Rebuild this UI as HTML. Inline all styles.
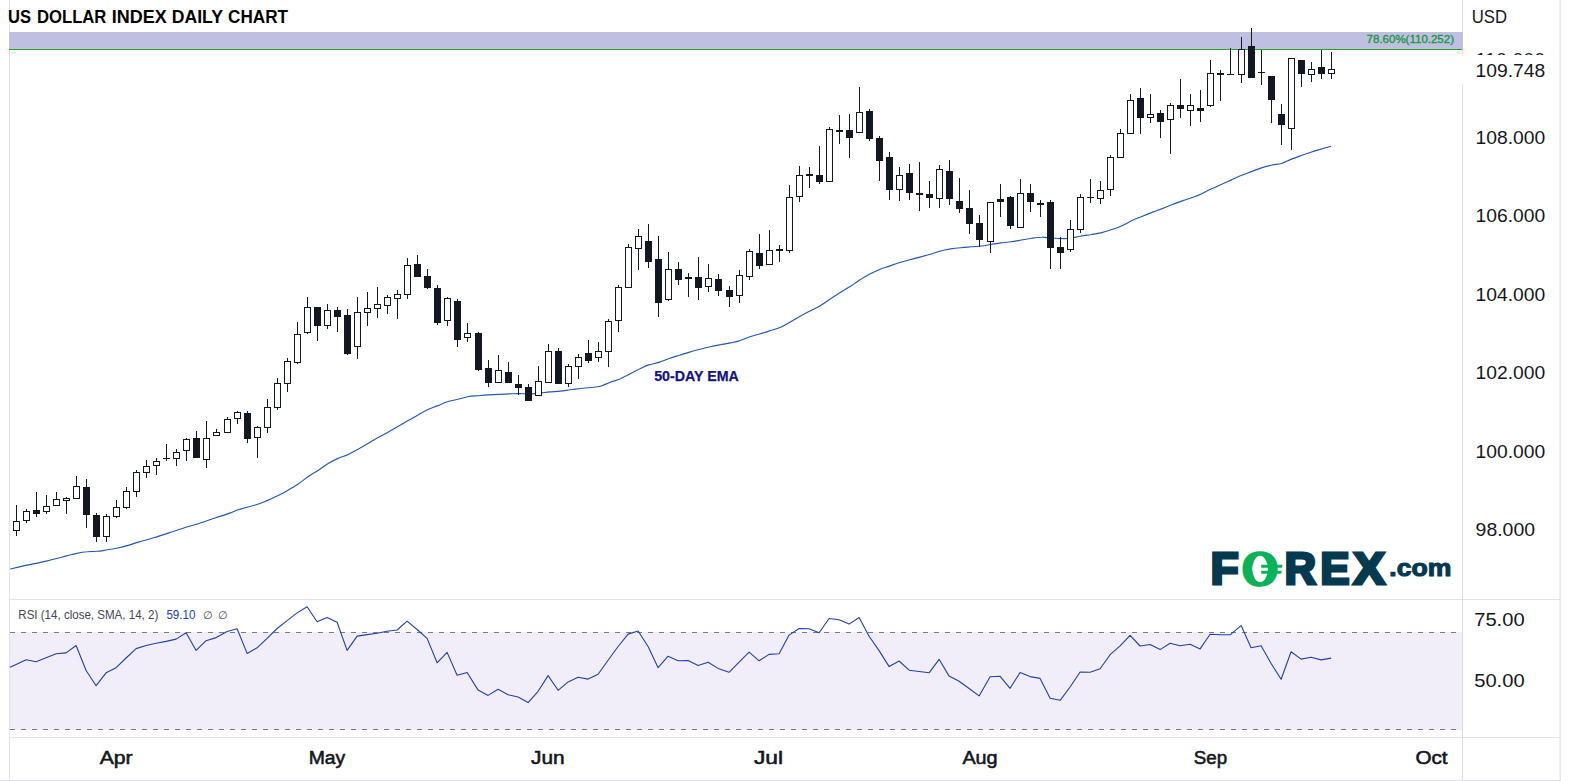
<!DOCTYPE html>
<html lang="en"><head><meta charset="utf-8"><title>US Dollar Index Daily Chart</title>
<style>html,body{margin:0;padding:0;background:#fff;}body{width:1570px;height:781px;overflow:hidden;font-family:"Liberation Sans",sans-serif;}svg{display:block;}text{font-family:"Liberation Sans",sans-serif;}</style>
</head><body>
<svg width="1570" height="781" viewBox="0 0 1570 781">
<rect x="0" y="0" width="1570" height="781" fill="#ffffff"/>
<g shape-rendering="crispEdges">
<rect x="10" y="632" width="1452" height="98" fill="#f2eef9"/>
<rect x="9" y="0" width="1" height="781" fill="#e0e3eb"/>
<rect x="1462" y="0" width="1" height="781" fill="#dcdee5"/>
<rect x="1559" y="0" width="1" height="781" fill="#eef0f6"/>
<rect x="1560" y="0" width="1" height="781" fill="#e9ebf3"/>
<rect x="9" y="599" width="1551" height="1" fill="#e0e3eb"/>
<rect x="9" y="737" width="1551" height="1" fill="#e0e3eb"/>
<rect x="0" y="780" width="1561" height="1" fill="#e0e3eb"/>
<rect x="9" y="32" width="1454" height="17" fill="#bfbfe1"/>
<rect x="9" y="49" width="1453" height="1" fill="#21a621"/>
<rect x="10" y="632" width="5" height="1" fill="#787b86"/>
<rect x="21" y="632" width="5" height="1" fill="#787b86"/>
<rect x="32" y="632" width="5" height="1" fill="#787b86"/>
<rect x="43" y="632" width="5" height="1" fill="#787b86"/>
<rect x="54" y="632" width="5" height="1" fill="#787b86"/>
<rect x="65" y="632" width="5" height="1" fill="#787b86"/>
<rect x="76" y="632" width="5" height="1" fill="#787b86"/>
<rect x="87" y="632" width="5" height="1" fill="#787b86"/>
<rect x="98" y="632" width="5" height="1" fill="#787b86"/>
<rect x="109" y="632" width="5" height="1" fill="#787b86"/>
<rect x="120" y="632" width="5" height="1" fill="#787b86"/>
<rect x="131" y="632" width="5" height="1" fill="#787b86"/>
<rect x="142" y="632" width="5" height="1" fill="#787b86"/>
<rect x="153" y="632" width="5" height="1" fill="#787b86"/>
<rect x="164" y="632" width="5" height="1" fill="#787b86"/>
<rect x="175" y="632" width="5" height="1" fill="#787b86"/>
<rect x="186" y="632" width="5" height="1" fill="#787b86"/>
<rect x="197" y="632" width="5" height="1" fill="#787b86"/>
<rect x="208" y="632" width="5" height="1" fill="#787b86"/>
<rect x="219" y="632" width="5" height="1" fill="#787b86"/>
<rect x="230" y="632" width="5" height="1" fill="#787b86"/>
<rect x="241" y="632" width="5" height="1" fill="#787b86"/>
<rect x="252" y="632" width="5" height="1" fill="#787b86"/>
<rect x="263" y="632" width="5" height="1" fill="#787b86"/>
<rect x="274" y="632" width="5" height="1" fill="#787b86"/>
<rect x="285" y="632" width="5" height="1" fill="#787b86"/>
<rect x="296" y="632" width="5" height="1" fill="#787b86"/>
<rect x="307" y="632" width="5" height="1" fill="#787b86"/>
<rect x="318" y="632" width="5" height="1" fill="#787b86"/>
<rect x="329" y="632" width="5" height="1" fill="#787b86"/>
<rect x="340" y="632" width="5" height="1" fill="#787b86"/>
<rect x="351" y="632" width="5" height="1" fill="#787b86"/>
<rect x="362" y="632" width="5" height="1" fill="#787b86"/>
<rect x="373" y="632" width="5" height="1" fill="#787b86"/>
<rect x="384" y="632" width="5" height="1" fill="#787b86"/>
<rect x="395" y="632" width="5" height="1" fill="#787b86"/>
<rect x="406" y="632" width="5" height="1" fill="#787b86"/>
<rect x="417" y="632" width="5" height="1" fill="#787b86"/>
<rect x="428" y="632" width="5" height="1" fill="#787b86"/>
<rect x="439" y="632" width="5" height="1" fill="#787b86"/>
<rect x="450" y="632" width="5" height="1" fill="#787b86"/>
<rect x="461" y="632" width="5" height="1" fill="#787b86"/>
<rect x="472" y="632" width="5" height="1" fill="#787b86"/>
<rect x="483" y="632" width="5" height="1" fill="#787b86"/>
<rect x="494" y="632" width="5" height="1" fill="#787b86"/>
<rect x="505" y="632" width="5" height="1" fill="#787b86"/>
<rect x="516" y="632" width="5" height="1" fill="#787b86"/>
<rect x="527" y="632" width="5" height="1" fill="#787b86"/>
<rect x="538" y="632" width="5" height="1" fill="#787b86"/>
<rect x="549" y="632" width="5" height="1" fill="#787b86"/>
<rect x="560" y="632" width="5" height="1" fill="#787b86"/>
<rect x="571" y="632" width="5" height="1" fill="#787b86"/>
<rect x="582" y="632" width="5" height="1" fill="#787b86"/>
<rect x="593" y="632" width="5" height="1" fill="#787b86"/>
<rect x="604" y="632" width="5" height="1" fill="#787b86"/>
<rect x="615" y="632" width="5" height="1" fill="#787b86"/>
<rect x="626" y="632" width="5" height="1" fill="#787b86"/>
<rect x="637" y="632" width="5" height="1" fill="#787b86"/>
<rect x="648" y="632" width="5" height="1" fill="#787b86"/>
<rect x="659" y="632" width="5" height="1" fill="#787b86"/>
<rect x="670" y="632" width="5" height="1" fill="#787b86"/>
<rect x="681" y="632" width="5" height="1" fill="#787b86"/>
<rect x="692" y="632" width="5" height="1" fill="#787b86"/>
<rect x="703" y="632" width="5" height="1" fill="#787b86"/>
<rect x="714" y="632" width="5" height="1" fill="#787b86"/>
<rect x="725" y="632" width="5" height="1" fill="#787b86"/>
<rect x="736" y="632" width="5" height="1" fill="#787b86"/>
<rect x="747" y="632" width="5" height="1" fill="#787b86"/>
<rect x="758" y="632" width="5" height="1" fill="#787b86"/>
<rect x="769" y="632" width="5" height="1" fill="#787b86"/>
<rect x="780" y="632" width="5" height="1" fill="#787b86"/>
<rect x="791" y="632" width="5" height="1" fill="#787b86"/>
<rect x="802" y="632" width="5" height="1" fill="#787b86"/>
<rect x="813" y="632" width="5" height="1" fill="#787b86"/>
<rect x="824" y="632" width="5" height="1" fill="#787b86"/>
<rect x="835" y="632" width="5" height="1" fill="#787b86"/>
<rect x="846" y="632" width="5" height="1" fill="#787b86"/>
<rect x="857" y="632" width="5" height="1" fill="#787b86"/>
<rect x="868" y="632" width="5" height="1" fill="#787b86"/>
<rect x="879" y="632" width="5" height="1" fill="#787b86"/>
<rect x="890" y="632" width="5" height="1" fill="#787b86"/>
<rect x="901" y="632" width="5" height="1" fill="#787b86"/>
<rect x="912" y="632" width="5" height="1" fill="#787b86"/>
<rect x="923" y="632" width="5" height="1" fill="#787b86"/>
<rect x="934" y="632" width="5" height="1" fill="#787b86"/>
<rect x="945" y="632" width="5" height="1" fill="#787b86"/>
<rect x="956" y="632" width="5" height="1" fill="#787b86"/>
<rect x="967" y="632" width="5" height="1" fill="#787b86"/>
<rect x="978" y="632" width="5" height="1" fill="#787b86"/>
<rect x="989" y="632" width="5" height="1" fill="#787b86"/>
<rect x="1000" y="632" width="5" height="1" fill="#787b86"/>
<rect x="1011" y="632" width="5" height="1" fill="#787b86"/>
<rect x="1022" y="632" width="5" height="1" fill="#787b86"/>
<rect x="1033" y="632" width="5" height="1" fill="#787b86"/>
<rect x="1044" y="632" width="5" height="1" fill="#787b86"/>
<rect x="1055" y="632" width="5" height="1" fill="#787b86"/>
<rect x="1066" y="632" width="5" height="1" fill="#787b86"/>
<rect x="1077" y="632" width="5" height="1" fill="#787b86"/>
<rect x="1088" y="632" width="5" height="1" fill="#787b86"/>
<rect x="1099" y="632" width="5" height="1" fill="#787b86"/>
<rect x="1110" y="632" width="5" height="1" fill="#787b86"/>
<rect x="1121" y="632" width="5" height="1" fill="#787b86"/>
<rect x="1132" y="632" width="5" height="1" fill="#787b86"/>
<rect x="1143" y="632" width="5" height="1" fill="#787b86"/>
<rect x="1154" y="632" width="5" height="1" fill="#787b86"/>
<rect x="1165" y="632" width="5" height="1" fill="#787b86"/>
<rect x="1176" y="632" width="5" height="1" fill="#787b86"/>
<rect x="1187" y="632" width="5" height="1" fill="#787b86"/>
<rect x="1198" y="632" width="5" height="1" fill="#787b86"/>
<rect x="1209" y="632" width="5" height="1" fill="#787b86"/>
<rect x="1220" y="632" width="5" height="1" fill="#787b86"/>
<rect x="1231" y="632" width="5" height="1" fill="#787b86"/>
<rect x="1242" y="632" width="5" height="1" fill="#787b86"/>
<rect x="1253" y="632" width="5" height="1" fill="#787b86"/>
<rect x="1264" y="632" width="5" height="1" fill="#787b86"/>
<rect x="1275" y="632" width="5" height="1" fill="#787b86"/>
<rect x="1286" y="632" width="5" height="1" fill="#787b86"/>
<rect x="1297" y="632" width="5" height="1" fill="#787b86"/>
<rect x="1308" y="632" width="5" height="1" fill="#787b86"/>
<rect x="1319" y="632" width="5" height="1" fill="#787b86"/>
<rect x="1330" y="632" width="5" height="1" fill="#787b86"/>
<rect x="1341" y="632" width="5" height="1" fill="#787b86"/>
<rect x="1352" y="632" width="5" height="1" fill="#787b86"/>
<rect x="1363" y="632" width="5" height="1" fill="#787b86"/>
<rect x="1374" y="632" width="5" height="1" fill="#787b86"/>
<rect x="1385" y="632" width="5" height="1" fill="#787b86"/>
<rect x="1396" y="632" width="5" height="1" fill="#787b86"/>
<rect x="1407" y="632" width="5" height="1" fill="#787b86"/>
<rect x="1418" y="632" width="5" height="1" fill="#787b86"/>
<rect x="1429" y="632" width="5" height="1" fill="#787b86"/>
<rect x="1440" y="632" width="5" height="1" fill="#787b86"/>
<rect x="1451" y="632" width="5" height="1" fill="#787b86"/>
<rect x="10" y="729" width="5" height="1" fill="#787b86"/>
<rect x="21" y="729" width="5" height="1" fill="#787b86"/>
<rect x="32" y="729" width="5" height="1" fill="#787b86"/>
<rect x="43" y="729" width="5" height="1" fill="#787b86"/>
<rect x="54" y="729" width="5" height="1" fill="#787b86"/>
<rect x="65" y="729" width="5" height="1" fill="#787b86"/>
<rect x="76" y="729" width="5" height="1" fill="#787b86"/>
<rect x="87" y="729" width="5" height="1" fill="#787b86"/>
<rect x="98" y="729" width="5" height="1" fill="#787b86"/>
<rect x="109" y="729" width="5" height="1" fill="#787b86"/>
<rect x="120" y="729" width="5" height="1" fill="#787b86"/>
<rect x="131" y="729" width="5" height="1" fill="#787b86"/>
<rect x="142" y="729" width="5" height="1" fill="#787b86"/>
<rect x="153" y="729" width="5" height="1" fill="#787b86"/>
<rect x="164" y="729" width="5" height="1" fill="#787b86"/>
<rect x="175" y="729" width="5" height="1" fill="#787b86"/>
<rect x="186" y="729" width="5" height="1" fill="#787b86"/>
<rect x="197" y="729" width="5" height="1" fill="#787b86"/>
<rect x="208" y="729" width="5" height="1" fill="#787b86"/>
<rect x="219" y="729" width="5" height="1" fill="#787b86"/>
<rect x="230" y="729" width="5" height="1" fill="#787b86"/>
<rect x="241" y="729" width="5" height="1" fill="#787b86"/>
<rect x="252" y="729" width="5" height="1" fill="#787b86"/>
<rect x="263" y="729" width="5" height="1" fill="#787b86"/>
<rect x="274" y="729" width="5" height="1" fill="#787b86"/>
<rect x="285" y="729" width="5" height="1" fill="#787b86"/>
<rect x="296" y="729" width="5" height="1" fill="#787b86"/>
<rect x="307" y="729" width="5" height="1" fill="#787b86"/>
<rect x="318" y="729" width="5" height="1" fill="#787b86"/>
<rect x="329" y="729" width="5" height="1" fill="#787b86"/>
<rect x="340" y="729" width="5" height="1" fill="#787b86"/>
<rect x="351" y="729" width="5" height="1" fill="#787b86"/>
<rect x="362" y="729" width="5" height="1" fill="#787b86"/>
<rect x="373" y="729" width="5" height="1" fill="#787b86"/>
<rect x="384" y="729" width="5" height="1" fill="#787b86"/>
<rect x="395" y="729" width="5" height="1" fill="#787b86"/>
<rect x="406" y="729" width="5" height="1" fill="#787b86"/>
<rect x="417" y="729" width="5" height="1" fill="#787b86"/>
<rect x="428" y="729" width="5" height="1" fill="#787b86"/>
<rect x="439" y="729" width="5" height="1" fill="#787b86"/>
<rect x="450" y="729" width="5" height="1" fill="#787b86"/>
<rect x="461" y="729" width="5" height="1" fill="#787b86"/>
<rect x="472" y="729" width="5" height="1" fill="#787b86"/>
<rect x="483" y="729" width="5" height="1" fill="#787b86"/>
<rect x="494" y="729" width="5" height="1" fill="#787b86"/>
<rect x="505" y="729" width="5" height="1" fill="#787b86"/>
<rect x="516" y="729" width="5" height="1" fill="#787b86"/>
<rect x="527" y="729" width="5" height="1" fill="#787b86"/>
<rect x="538" y="729" width="5" height="1" fill="#787b86"/>
<rect x="549" y="729" width="5" height="1" fill="#787b86"/>
<rect x="560" y="729" width="5" height="1" fill="#787b86"/>
<rect x="571" y="729" width="5" height="1" fill="#787b86"/>
<rect x="582" y="729" width="5" height="1" fill="#787b86"/>
<rect x="593" y="729" width="5" height="1" fill="#787b86"/>
<rect x="604" y="729" width="5" height="1" fill="#787b86"/>
<rect x="615" y="729" width="5" height="1" fill="#787b86"/>
<rect x="626" y="729" width="5" height="1" fill="#787b86"/>
<rect x="637" y="729" width="5" height="1" fill="#787b86"/>
<rect x="648" y="729" width="5" height="1" fill="#787b86"/>
<rect x="659" y="729" width="5" height="1" fill="#787b86"/>
<rect x="670" y="729" width="5" height="1" fill="#787b86"/>
<rect x="681" y="729" width="5" height="1" fill="#787b86"/>
<rect x="692" y="729" width="5" height="1" fill="#787b86"/>
<rect x="703" y="729" width="5" height="1" fill="#787b86"/>
<rect x="714" y="729" width="5" height="1" fill="#787b86"/>
<rect x="725" y="729" width="5" height="1" fill="#787b86"/>
<rect x="736" y="729" width="5" height="1" fill="#787b86"/>
<rect x="747" y="729" width="5" height="1" fill="#787b86"/>
<rect x="758" y="729" width="5" height="1" fill="#787b86"/>
<rect x="769" y="729" width="5" height="1" fill="#787b86"/>
<rect x="780" y="729" width="5" height="1" fill="#787b86"/>
<rect x="791" y="729" width="5" height="1" fill="#787b86"/>
<rect x="802" y="729" width="5" height="1" fill="#787b86"/>
<rect x="813" y="729" width="5" height="1" fill="#787b86"/>
<rect x="824" y="729" width="5" height="1" fill="#787b86"/>
<rect x="835" y="729" width="5" height="1" fill="#787b86"/>
<rect x="846" y="729" width="5" height="1" fill="#787b86"/>
<rect x="857" y="729" width="5" height="1" fill="#787b86"/>
<rect x="868" y="729" width="5" height="1" fill="#787b86"/>
<rect x="879" y="729" width="5" height="1" fill="#787b86"/>
<rect x="890" y="729" width="5" height="1" fill="#787b86"/>
<rect x="901" y="729" width="5" height="1" fill="#787b86"/>
<rect x="912" y="729" width="5" height="1" fill="#787b86"/>
<rect x="923" y="729" width="5" height="1" fill="#787b86"/>
<rect x="934" y="729" width="5" height="1" fill="#787b86"/>
<rect x="945" y="729" width="5" height="1" fill="#787b86"/>
<rect x="956" y="729" width="5" height="1" fill="#787b86"/>
<rect x="967" y="729" width="5" height="1" fill="#787b86"/>
<rect x="978" y="729" width="5" height="1" fill="#787b86"/>
<rect x="989" y="729" width="5" height="1" fill="#787b86"/>
<rect x="1000" y="729" width="5" height="1" fill="#787b86"/>
<rect x="1011" y="729" width="5" height="1" fill="#787b86"/>
<rect x="1022" y="729" width="5" height="1" fill="#787b86"/>
<rect x="1033" y="729" width="5" height="1" fill="#787b86"/>
<rect x="1044" y="729" width="5" height="1" fill="#787b86"/>
<rect x="1055" y="729" width="5" height="1" fill="#787b86"/>
<rect x="1066" y="729" width="5" height="1" fill="#787b86"/>
<rect x="1077" y="729" width="5" height="1" fill="#787b86"/>
<rect x="1088" y="729" width="5" height="1" fill="#787b86"/>
<rect x="1099" y="729" width="5" height="1" fill="#787b86"/>
<rect x="1110" y="729" width="5" height="1" fill="#787b86"/>
<rect x="1121" y="729" width="5" height="1" fill="#787b86"/>
<rect x="1132" y="729" width="5" height="1" fill="#787b86"/>
<rect x="1143" y="729" width="5" height="1" fill="#787b86"/>
<rect x="1154" y="729" width="5" height="1" fill="#787b86"/>
<rect x="1165" y="729" width="5" height="1" fill="#787b86"/>
<rect x="1176" y="729" width="5" height="1" fill="#787b86"/>
<rect x="1187" y="729" width="5" height="1" fill="#787b86"/>
<rect x="1198" y="729" width="5" height="1" fill="#787b86"/>
<rect x="1209" y="729" width="5" height="1" fill="#787b86"/>
<rect x="1220" y="729" width="5" height="1" fill="#787b86"/>
<rect x="1231" y="729" width="5" height="1" fill="#787b86"/>
<rect x="1242" y="729" width="5" height="1" fill="#787b86"/>
<rect x="1253" y="729" width="5" height="1" fill="#787b86"/>
<rect x="1264" y="729" width="5" height="1" fill="#787b86"/>
<rect x="1275" y="729" width="5" height="1" fill="#787b86"/>
<rect x="1286" y="729" width="5" height="1" fill="#787b86"/>
<rect x="1297" y="729" width="5" height="1" fill="#787b86"/>
<rect x="1308" y="729" width="5" height="1" fill="#787b86"/>
<rect x="1319" y="729" width="5" height="1" fill="#787b86"/>
<rect x="1330" y="729" width="5" height="1" fill="#787b86"/>
<rect x="1341" y="729" width="5" height="1" fill="#787b86"/>
<rect x="1352" y="729" width="5" height="1" fill="#787b86"/>
<rect x="1363" y="729" width="5" height="1" fill="#787b86"/>
<rect x="1374" y="729" width="5" height="1" fill="#787b86"/>
<rect x="1385" y="729" width="5" height="1" fill="#787b86"/>
<rect x="1396" y="729" width="5" height="1" fill="#787b86"/>
<rect x="1407" y="729" width="5" height="1" fill="#787b86"/>
<rect x="1418" y="729" width="5" height="1" fill="#787b86"/>
<rect x="1429" y="729" width="5" height="1" fill="#787b86"/>
<rect x="1440" y="729" width="5" height="1" fill="#787b86"/>
<rect x="1451" y="729" width="5" height="1" fill="#787b86"/>
</g>
<path d="M10.2 569.0C12.8 568.4 19.6 566.7 25.6 565.4C31.6 564.1 39.3 562.7 46.1 561.1C52.9 559.5 61.5 557.2 66.6 555.9C71.7 554.6 73.4 554.1 76.8 553.4C80.2 552.7 83.7 552.1 87.1 551.8C90.5 551.4 93.9 551.6 97.3 551.3C100.7 551.0 104.2 550.3 107.6 549.8C111.0 549.2 114.4 548.7 117.8 548.0C121.2 547.3 124.6 546.4 128.0 545.4C131.4 544.4 134.0 543.4 138.3 542.1C142.6 540.8 148.5 539.3 153.6 537.8C158.7 536.3 163.9 534.6 169.0 532.9C174.1 531.2 179.3 529.4 184.4 527.8C189.5 526.2 194.6 524.8 199.7 523.2C204.8 521.6 210.0 519.7 215.1 518.0C220.2 516.3 226.7 514.3 230.5 512.9C234.3 511.5 233.9 511.2 238.2 509.8C242.5 508.4 251.4 506.2 256.1 504.7C260.8 503.2 262.9 502.3 266.3 500.9C269.7 499.5 273.2 498.0 276.6 496.3C280.0 494.6 283.4 492.8 286.8 490.9C290.2 489.0 293.7 487.1 297.1 484.8C300.5 482.5 303.9 479.7 307.3 477.3C310.7 474.9 314.1 472.9 317.5 470.7C320.9 468.4 324.4 465.9 327.8 463.8C331.2 461.8 334.6 459.9 338.0 458.4C341.4 456.8 344.9 456.1 348.3 454.5C351.7 452.9 355.1 450.8 358.5 448.9C361.9 447.0 365.4 445.0 368.8 443.0C372.2 441.0 375.6 439.0 379.0 437.1C382.4 435.2 386.8 432.9 389.2 431.5C391.6 430.1 391.2 430.4 393.6 429.0C396.1 427.6 400.5 425.1 403.9 423.1C407.3 421.1 410.3 419.4 414.1 417.2C417.9 415.0 423.0 411.9 426.9 410.0C430.8 408.1 433.8 407.3 437.2 405.9C440.6 404.5 444.0 402.9 447.4 401.8C450.8 400.7 454.3 400.2 457.7 399.3C461.1 398.4 464.5 397.3 467.9 396.7C471.3 396.1 474.8 396.0 478.2 395.7C481.6 395.4 485.0 395.1 488.4 394.9C491.8 394.7 495.2 394.6 498.6 394.4C502.0 394.2 505.5 394.0 508.9 393.9C512.3 393.8 515.7 393.6 519.1 393.6C522.5 393.6 526.0 394.0 529.4 393.9C532.8 393.8 536.2 393.4 539.6 393.1C543.0 392.8 546.5 392.2 549.9 391.9C553.3 391.6 556.7 391.5 560.1 391.1C563.5 390.8 566.9 390.2 570.3 389.8C573.7 389.4 577.2 388.9 580.6 388.5C584.0 388.1 587.4 387.9 590.8 387.5C594.2 387.1 597.9 386.9 601.1 386.0C604.3 385.1 607.0 383.5 610.2 382.3C613.4 381.1 617.1 380.1 620.5 378.7C623.9 377.2 627.3 375.4 630.7 373.6C634.1 371.9 638.0 369.6 641.0 368.2C644.0 366.8 645.7 365.9 648.7 364.9C651.7 363.9 655.5 363.5 658.9 362.4C662.3 361.3 665.7 359.7 669.1 358.5C672.5 357.3 676.0 356.3 679.4 355.2C682.8 354.1 686.2 353.1 689.6 352.1C693.0 351.1 696.5 350.2 699.9 349.3C703.3 348.4 706.7 347.5 710.1 346.7C713.5 345.9 717.0 345.3 720.4 344.7C723.8 344.1 727.6 343.5 730.6 342.9C733.6 342.3 735.3 342.0 738.3 341.1C741.3 340.2 745.1 338.5 748.5 337.3C751.9 336.1 755.4 335.2 758.8 334.2C762.2 333.2 765.6 332.2 769.0 331.1C772.4 330.0 775.9 329.2 779.3 327.8C782.7 326.4 786.1 324.3 789.5 322.4C792.9 320.5 796.3 318.4 799.7 316.5C803.1 314.6 806.6 312.9 810.0 311.1C813.4 309.3 816.8 307.9 820.2 305.8C823.6 303.8 827.1 301.1 830.5 298.8C833.9 296.5 837.3 294.3 840.7 292.2C844.1 290.1 848.0 287.9 851.0 286.0C854.0 284.1 855.6 282.6 858.6 280.7C861.6 278.8 865.5 276.3 868.9 274.5C872.3 272.7 875.7 271.1 879.1 269.7C882.5 268.3 886.0 267.3 889.4 266.1C892.8 264.9 896.2 263.6 899.6 262.5C903.0 261.4 906.5 260.6 909.9 259.7C913.3 258.8 916.7 258.0 920.1 257.1C923.5 256.2 926.9 255.3 930.3 254.3C933.7 253.3 937.2 251.9 940.6 251.0C944.0 250.1 947.4 249.5 950.8 248.9C954.2 248.3 957.7 248.0 961.1 247.7C964.5 247.3 967.9 247.1 971.3 246.8C974.7 246.5 978.2 246.4 981.6 246.0C985.0 245.6 988.6 244.8 991.8 244.3C995.0 243.8 997.8 243.3 1001.0 242.9C1004.2 242.5 1007.8 242.3 1011.2 241.8C1014.6 241.3 1018.1 240.6 1021.5 240.0C1024.9 239.4 1028.3 238.8 1031.7 238.3C1035.1 237.8 1038.9 237.2 1041.9 237.2C1044.9 237.1 1046.6 237.8 1049.6 238.0C1052.6 238.2 1056.5 238.4 1059.9 238.5C1063.3 238.6 1066.7 238.7 1070.1 238.3C1073.5 237.9 1077.0 236.8 1080.4 236.2C1083.8 235.6 1087.2 235.2 1090.6 234.7C1094.0 234.1 1097.4 233.7 1100.8 232.9C1104.2 232.1 1107.7 231.0 1111.1 229.8C1114.5 228.7 1117.9 227.5 1121.3 226.0C1124.7 224.5 1128.2 222.4 1131.6 220.8C1135.0 219.2 1138.4 217.9 1141.8 216.5C1145.2 215.1 1148.7 213.7 1152.1 212.4C1155.5 211.1 1158.9 209.9 1162.3 208.6C1165.7 207.3 1169.1 205.8 1172.5 204.5C1175.9 203.2 1179.4 201.8 1182.8 200.6C1186.2 199.4 1190.0 198.4 1193.0 197.3C1196.0 196.2 1197.7 195.6 1200.7 194.2C1203.7 192.8 1207.6 190.7 1211.0 189.1C1214.4 187.5 1217.8 186.0 1221.2 184.5C1224.6 183.0 1228.1 181.4 1231.5 179.9C1234.9 178.4 1238.3 176.7 1241.7 175.3C1245.1 173.9 1248.5 172.7 1251.9 171.4C1255.3 170.1 1258.8 168.7 1262.2 167.6C1265.6 166.5 1269.2 165.7 1272.4 165.0C1275.6 164.3 1278.4 164.4 1281.4 163.5C1284.4 162.6 1287.1 160.9 1290.3 159.6C1293.5 158.3 1297.2 157.0 1300.6 155.8C1304.0 154.6 1307.4 153.3 1310.8 152.2C1314.2 151.1 1317.7 150.1 1321.1 149.1C1324.5 148.1 1329.3 146.8 1331.0 146.3" fill="none" stroke="#2458ab" stroke-width="1.15"/>
<g shape-rendering="crispEdges" fill="#131722">
<rect x="16" y="505" width="1" height="31"/>
<rect x="13" y="521" width="7" height="10"/>
<rect x="14" y="522" width="5" height="8" fill="#fff"/>
<rect x="26" y="509" width="1" height="14"/>
<rect x="23" y="511" width="7" height="10"/>
<rect x="24" y="512" width="5" height="8" fill="#fff"/>
<rect x="36" y="492" width="1" height="25"/>
<rect x="33" y="510" width="7" height="4"/>
<rect x="46" y="495" width="1" height="19"/>
<rect x="43" y="506" width="7" height="6"/>
<rect x="44" y="507" width="5" height="4" fill="#fff"/>
<rect x="56" y="492" width="1" height="14"/>
<rect x="53" y="499" width="7" height="7"/>
<rect x="54" y="500" width="5" height="5" fill="#fff"/>
<rect x="66" y="497" width="1" height="17"/>
<rect x="63" y="498" width="7" height="3"/>
<rect x="64" y="499" width="5" height="1" fill="#fff"/>
<rect x="76" y="476" width="1" height="23"/>
<rect x="73" y="486" width="7" height="13"/>
<rect x="74" y="487" width="5" height="11" fill="#fff"/>
<rect x="86" y="479" width="1" height="49"/>
<rect x="83" y="487" width="7" height="28"/>
<rect x="96" y="513" width="1" height="29"/>
<rect x="93" y="515" width="7" height="22"/>
<rect x="106" y="514" width="1" height="28"/>
<rect x="103" y="516" width="7" height="21"/>
<rect x="104" y="517" width="5" height="19" fill="#fff"/>
<rect x="116" y="500" width="1" height="18"/>
<rect x="113" y="507" width="7" height="10"/>
<rect x="114" y="508" width="5" height="8" fill="#fff"/>
<rect x="126" y="487" width="1" height="22"/>
<rect x="123" y="491" width="7" height="17"/>
<rect x="124" y="492" width="5" height="15" fill="#fff"/>
<rect x="136" y="470" width="1" height="27"/>
<rect x="133" y="472" width="7" height="20"/>
<rect x="134" y="473" width="5" height="18" fill="#fff"/>
<rect x="146" y="460" width="1" height="18"/>
<rect x="143" y="466" width="7" height="7"/>
<rect x="144" y="467" width="5" height="5" fill="#fff"/>
<rect x="156" y="458" width="1" height="17"/>
<rect x="153" y="461" width="7" height="5"/>
<rect x="154" y="462" width="5" height="3" fill="#fff"/>
<rect x="166" y="444" width="1" height="17"/>
<rect x="163" y="458" width="7" height="1"/>
<rect x="176" y="449" width="1" height="17"/>
<rect x="173" y="452" width="7" height="7"/>
<rect x="174" y="453" width="5" height="5" fill="#fff"/>
<rect x="186" y="438" width="1" height="23"/>
<rect x="183" y="439" width="7" height="12"/>
<rect x="184" y="440" width="5" height="10" fill="#fff"/>
<rect x="196" y="431" width="1" height="27"/>
<rect x="193" y="438" width="7" height="20"/>
<rect x="206" y="421" width="1" height="47"/>
<rect x="203" y="438" width="7" height="22"/>
<rect x="204" y="439" width="5" height="20" fill="#fff"/>
<rect x="216" y="429" width="1" height="7"/>
<rect x="213" y="432" width="7" height="4"/>
<rect x="214" y="433" width="5" height="2" fill="#fff"/>
<rect x="227" y="417" width="1" height="16"/>
<rect x="224" y="419" width="7" height="14"/>
<rect x="225" y="420" width="5" height="12" fill="#fff"/>
<rect x="237" y="411" width="1" height="13"/>
<rect x="234" y="412" width="7" height="7"/>
<rect x="235" y="413" width="5" height="5" fill="#fff"/>
<rect x="247" y="411" width="1" height="32"/>
<rect x="244" y="413" width="7" height="26"/>
<rect x="257" y="426" width="1" height="32"/>
<rect x="254" y="427" width="7" height="11"/>
<rect x="255" y="428" width="5" height="9" fill="#fff"/>
<rect x="267" y="399" width="1" height="34"/>
<rect x="264" y="407" width="7" height="21"/>
<rect x="265" y="408" width="5" height="19" fill="#fff"/>
<rect x="277" y="378" width="1" height="32"/>
<rect x="274" y="383" width="7" height="25"/>
<rect x="275" y="384" width="5" height="23" fill="#fff"/>
<rect x="287" y="358" width="1" height="34"/>
<rect x="284" y="361" width="7" height="23"/>
<rect x="285" y="362" width="5" height="21" fill="#fff"/>
<rect x="297" y="322" width="1" height="42"/>
<rect x="294" y="334" width="7" height="29"/>
<rect x="295" y="335" width="5" height="27" fill="#fff"/>
<rect x="307" y="297" width="1" height="37"/>
<rect x="304" y="307" width="7" height="26"/>
<rect x="305" y="308" width="5" height="24" fill="#fff"/>
<rect x="317" y="307" width="1" height="34"/>
<rect x="314" y="307" width="7" height="19"/>
<rect x="327" y="304" width="1" height="25"/>
<rect x="324" y="310" width="7" height="16"/>
<rect x="325" y="311" width="5" height="14" fill="#fff"/>
<rect x="337" y="307" width="1" height="25"/>
<rect x="334" y="310" width="7" height="7"/>
<rect x="347" y="309" width="1" height="46"/>
<rect x="344" y="315" width="7" height="39"/>
<rect x="357" y="297" width="1" height="62"/>
<rect x="354" y="312" width="7" height="35"/>
<rect x="355" y="313" width="5" height="33" fill="#fff"/>
<rect x="367" y="292" width="1" height="34"/>
<rect x="364" y="308" width="7" height="5"/>
<rect x="365" y="309" width="5" height="3" fill="#fff"/>
<rect x="377" y="287" width="1" height="31"/>
<rect x="374" y="304" width="7" height="5"/>
<rect x="375" y="305" width="5" height="3" fill="#fff"/>
<rect x="387" y="295" width="1" height="19"/>
<rect x="384" y="297" width="7" height="9"/>
<rect x="385" y="298" width="5" height="7" fill="#fff"/>
<rect x="397" y="290" width="1" height="29"/>
<rect x="394" y="294" width="7" height="5"/>
<rect x="395" y="295" width="5" height="3" fill="#fff"/>
<rect x="407" y="258" width="1" height="41"/>
<rect x="404" y="265" width="7" height="30"/>
<rect x="405" y="266" width="5" height="28" fill="#fff"/>
<rect x="417" y="255" width="1" height="22"/>
<rect x="414" y="264" width="7" height="13"/>
<rect x="427" y="269" width="1" height="20"/>
<rect x="424" y="276" width="7" height="12"/>
<rect x="437" y="285" width="1" height="40"/>
<rect x="434" y="288" width="7" height="35"/>
<rect x="447" y="297" width="1" height="29"/>
<rect x="444" y="298" width="7" height="23"/>
<rect x="445" y="299" width="5" height="21" fill="#fff"/>
<rect x="457" y="299" width="1" height="48"/>
<rect x="454" y="301" width="7" height="39"/>
<rect x="467" y="323" width="1" height="19"/>
<rect x="464" y="333" width="7" height="5"/>
<rect x="465" y="334" width="5" height="3" fill="#fff"/>
<rect x="478" y="332" width="1" height="39"/>
<rect x="475" y="333" width="7" height="37"/>
<rect x="488" y="360" width="1" height="27"/>
<rect x="485" y="368" width="7" height="15"/>
<rect x="498" y="355" width="1" height="28"/>
<rect x="495" y="370" width="7" height="13"/>
<rect x="496" y="371" width="5" height="11" fill="#fff"/>
<rect x="508" y="362" width="1" height="21"/>
<rect x="505" y="372" width="7" height="11"/>
<rect x="518" y="375" width="1" height="20"/>
<rect x="515" y="384" width="7" height="4"/>
<rect x="528" y="384" width="1" height="17"/>
<rect x="525" y="387" width="7" height="14"/>
<rect x="538" y="366" width="1" height="30"/>
<rect x="535" y="381" width="7" height="15"/>
<rect x="536" y="382" width="5" height="13" fill="#fff"/>
<rect x="548" y="344" width="1" height="39"/>
<rect x="545" y="351" width="7" height="32"/>
<rect x="546" y="352" width="5" height="30" fill="#fff"/>
<rect x="558" y="348" width="1" height="36"/>
<rect x="555" y="351" width="7" height="33"/>
<rect x="568" y="364" width="1" height="23"/>
<rect x="565" y="366" width="7" height="18"/>
<rect x="566" y="367" width="5" height="16" fill="#fff"/>
<rect x="578" y="354" width="1" height="25"/>
<rect x="575" y="357" width="7" height="10"/>
<rect x="576" y="358" width="5" height="8" fill="#fff"/>
<rect x="588" y="340" width="1" height="23"/>
<rect x="585" y="353" width="7" height="8"/>
<rect x="598" y="342" width="1" height="20"/>
<rect x="595" y="351" width="7" height="7"/>
<rect x="596" y="352" width="5" height="5" fill="#fff"/>
<rect x="608" y="319" width="1" height="48"/>
<rect x="605" y="321" width="7" height="31"/>
<rect x="606" y="322" width="5" height="29" fill="#fff"/>
<rect x="618" y="285" width="1" height="47"/>
<rect x="615" y="287" width="7" height="34"/>
<rect x="616" y="288" width="5" height="32" fill="#fff"/>
<rect x="628" y="244" width="1" height="44"/>
<rect x="625" y="247" width="7" height="41"/>
<rect x="626" y="248" width="5" height="39" fill="#fff"/>
<rect x="638" y="229" width="1" height="41"/>
<rect x="635" y="236" width="7" height="13"/>
<rect x="636" y="237" width="5" height="11" fill="#fff"/>
<rect x="648" y="224" width="1" height="44"/>
<rect x="645" y="241" width="7" height="21"/>
<rect x="658" y="236" width="1" height="81"/>
<rect x="655" y="259" width="7" height="44"/>
<rect x="668" y="252" width="1" height="49"/>
<rect x="665" y="269" width="7" height="31"/>
<rect x="666" y="270" width="5" height="29" fill="#fff"/>
<rect x="678" y="262" width="1" height="23"/>
<rect x="675" y="269" width="7" height="11"/>
<rect x="688" y="273" width="1" height="24"/>
<rect x="685" y="277" width="7" height="2"/>
<rect x="698" y="257" width="1" height="43"/>
<rect x="695" y="277" width="7" height="11"/>
<rect x="708" y="264" width="1" height="28"/>
<rect x="705" y="278" width="7" height="9"/>
<rect x="706" y="279" width="5" height="7" fill="#fff"/>
<rect x="718" y="274" width="1" height="22"/>
<rect x="715" y="279" width="7" height="12"/>
<rect x="729" y="286" width="1" height="21"/>
<rect x="726" y="290" width="7" height="7"/>
<rect x="739" y="270" width="1" height="33"/>
<rect x="736" y="275" width="7" height="21"/>
<rect x="737" y="276" width="5" height="19" fill="#fff"/>
<rect x="749" y="249" width="1" height="31"/>
<rect x="746" y="251" width="7" height="26"/>
<rect x="747" y="252" width="5" height="24" fill="#fff"/>
<rect x="759" y="234" width="1" height="35"/>
<rect x="756" y="253" width="7" height="13"/>
<rect x="769" y="230" width="1" height="35"/>
<rect x="766" y="250" width="7" height="15"/>
<rect x="767" y="251" width="5" height="13" fill="#fff"/>
<rect x="779" y="245" width="1" height="17"/>
<rect x="776" y="249" width="7" height="2"/>
<rect x="789" y="185" width="1" height="68"/>
<rect x="786" y="197" width="7" height="54"/>
<rect x="787" y="198" width="5" height="52" fill="#fff"/>
<rect x="799" y="166" width="1" height="36"/>
<rect x="796" y="175" width="7" height="22"/>
<rect x="797" y="176" width="5" height="20" fill="#fff"/>
<rect x="809" y="167" width="1" height="21"/>
<rect x="806" y="174" width="7" height="2"/>
<rect x="819" y="146" width="1" height="38"/>
<rect x="816" y="175" width="7" height="7"/>
<rect x="829" y="127" width="1" height="55"/>
<rect x="826" y="129" width="7" height="53"/>
<rect x="827" y="130" width="5" height="51" fill="#fff"/>
<rect x="839" y="115" width="1" height="29"/>
<rect x="836" y="130" width="7" height="2"/>
<rect x="849" y="114" width="1" height="44"/>
<rect x="846" y="130" width="7" height="8"/>
<rect x="859" y="87" width="1" height="46"/>
<rect x="856" y="112" width="7" height="21"/>
<rect x="857" y="113" width="5" height="19" fill="#fff"/>
<rect x="869" y="109" width="1" height="32"/>
<rect x="866" y="111" width="7" height="28"/>
<rect x="879" y="136" width="1" height="45"/>
<rect x="876" y="138" width="7" height="23"/>
<rect x="889" y="152" width="1" height="48"/>
<rect x="886" y="157" width="7" height="33"/>
<rect x="899" y="167" width="1" height="34"/>
<rect x="896" y="175" width="7" height="15"/>
<rect x="897" y="176" width="5" height="13" fill="#fff"/>
<rect x="909" y="164" width="1" height="36"/>
<rect x="906" y="173" width="7" height="20"/>
<rect x="919" y="162" width="1" height="49"/>
<rect x="916" y="193" width="7" height="2"/>
<rect x="929" y="181" width="1" height="27"/>
<rect x="926" y="194" width="7" height="4"/>
<rect x="939" y="165" width="1" height="43"/>
<rect x="936" y="169" width="7" height="30"/>
<rect x="937" y="170" width="5" height="28" fill="#fff"/>
<rect x="949" y="160" width="1" height="45"/>
<rect x="946" y="171" width="7" height="28"/>
<rect x="959" y="178" width="1" height="35"/>
<rect x="956" y="201" width="7" height="8"/>
<rect x="969" y="190" width="1" height="44"/>
<rect x="966" y="208" width="7" height="16"/>
<rect x="979" y="215" width="1" height="32"/>
<rect x="976" y="223" width="7" height="17"/>
<rect x="990" y="202" width="1" height="51"/>
<rect x="987" y="202" width="7" height="40"/>
<rect x="988" y="203" width="5" height="38" fill="#fff"/>
<rect x="1000" y="184" width="1" height="33"/>
<rect x="997" y="199" width="7" height="3"/>
<rect x="1010" y="196" width="1" height="33"/>
<rect x="1007" y="197" width="7" height="29"/>
<rect x="1020" y="179" width="1" height="49"/>
<rect x="1017" y="193" width="7" height="35"/>
<rect x="1018" y="194" width="5" height="33" fill="#fff"/>
<rect x="1030" y="184" width="1" height="28"/>
<rect x="1027" y="193" width="7" height="9"/>
<rect x="1040" y="200" width="1" height="17"/>
<rect x="1037" y="203" width="7" height="2"/>
<rect x="1050" y="200" width="1" height="69"/>
<rect x="1047" y="202" width="7" height="46"/>
<rect x="1060" y="237" width="1" height="32"/>
<rect x="1057" y="247" width="7" height="6"/>
<rect x="1070" y="220" width="1" height="32"/>
<rect x="1067" y="229" width="7" height="21"/>
<rect x="1068" y="230" width="5" height="19" fill="#fff"/>
<rect x="1080" y="194" width="1" height="39"/>
<rect x="1077" y="197" width="7" height="33"/>
<rect x="1078" y="198" width="5" height="31" fill="#fff"/>
<rect x="1090" y="179" width="1" height="24"/>
<rect x="1087" y="197" width="7" height="1"/>
<rect x="1100" y="181" width="1" height="23"/>
<rect x="1097" y="190" width="7" height="9"/>
<rect x="1098" y="191" width="5" height="7" fill="#fff"/>
<rect x="1110" y="155" width="1" height="41"/>
<rect x="1107" y="157" width="7" height="33"/>
<rect x="1108" y="158" width="5" height="31" fill="#fff"/>
<rect x="1120" y="129" width="1" height="29"/>
<rect x="1117" y="133" width="7" height="25"/>
<rect x="1118" y="134" width="5" height="23" fill="#fff"/>
<rect x="1130" y="94" width="1" height="40"/>
<rect x="1127" y="100" width="7" height="34"/>
<rect x="1128" y="101" width="5" height="32" fill="#fff"/>
<rect x="1140" y="88" width="1" height="46"/>
<rect x="1137" y="98" width="7" height="20"/>
<rect x="1150" y="94" width="1" height="29"/>
<rect x="1147" y="114" width="7" height="4"/>
<rect x="1148" y="115" width="5" height="2" fill="#fff"/>
<rect x="1160" y="110" width="1" height="28"/>
<rect x="1157" y="113" width="7" height="9"/>
<rect x="1170" y="103" width="1" height="51"/>
<rect x="1167" y="105" width="7" height="15"/>
<rect x="1168" y="106" width="5" height="13" fill="#fff"/>
<rect x="1180" y="79" width="1" height="39"/>
<rect x="1177" y="105" width="7" height="4"/>
<rect x="1190" y="94" width="1" height="32"/>
<rect x="1187" y="105" width="7" height="6"/>
<rect x="1188" y="106" width="5" height="4" fill="#fff"/>
<rect x="1200" y="90" width="1" height="32"/>
<rect x="1197" y="108" width="7" height="3"/>
<rect x="1210" y="60" width="1" height="47"/>
<rect x="1207" y="73" width="7" height="33"/>
<rect x="1208" y="74" width="5" height="31" fill="#fff"/>
<rect x="1220" y="70" width="1" height="31"/>
<rect x="1217" y="73" width="7" height="2"/>
<rect x="1230" y="48" width="1" height="27"/>
<rect x="1227" y="74" width="7" height="1"/>
<rect x="1241" y="37" width="1" height="46"/>
<rect x="1238" y="49" width="7" height="26"/>
<rect x="1239" y="50" width="5" height="24" fill="#fff"/>
<rect x="1251" y="28" width="1" height="50"/>
<rect x="1248" y="46" width="7" height="32"/>
<rect x="1261" y="50" width="1" height="35"/>
<rect x="1258" y="72" width="7" height="1"/>
<rect x="1271" y="76" width="1" height="47"/>
<rect x="1268" y="76" width="7" height="24"/>
<rect x="1281" y="104" width="1" height="41"/>
<rect x="1278" y="114" width="7" height="11"/>
<rect x="1291" y="58" width="1" height="92"/>
<rect x="1288" y="58" width="7" height="71"/>
<rect x="1289" y="59" width="5" height="69" fill="#fff"/>
<rect x="1301" y="60" width="1" height="27"/>
<rect x="1298" y="60" width="7" height="14"/>
<rect x="1311" y="62" width="1" height="20"/>
<rect x="1308" y="69" width="7" height="6"/>
<rect x="1309" y="70" width="5" height="4" fill="#fff"/>
<rect x="1321" y="50" width="1" height="29"/>
<rect x="1318" y="67" width="7" height="7"/>
<rect x="1331" y="52" width="1" height="27"/>
<rect x="1328" y="69" width="7" height="5"/>
<rect x="1329" y="70" width="5" height="3" fill="#fff"/>
</g>
<polyline points="10.0,667.3 16.1,664.4 26.1,659.8 36.1,661.8 46.1,657.7 56.1,653.7 66.1,652.9 76.1,645.5 86.1,670.5 96.1,685.7 106.1,672.8 116.1,667.7 126.1,658.0 136.1,648.6 146.1,645.5 156.1,643.2 166.1,641.4 176.1,639.1 186.1,632.8 196.1,650.4 206.1,640.7 216.1,637.6 227.1,631.5 237.1,628.7 247.1,653.4 257.1,647.8 267.1,638.4 277.1,628.5 287.1,620.6 297.1,612.9 307.1,606.8 317.1,621.8 327.1,617.5 337.1,622.3 347.1,650.4 357.1,636.1 367.1,634.6 377.1,633.3 387.1,631.3 397.1,630.0 407.1,621.1 417.1,629.5 427.1,638.4 437.1,662.8 447.1,652.4 457.1,675.3 467.1,672.5 478.1,690.1 488.1,695.4 498.1,689.3 508.1,694.7 518.1,697.0 528.1,702.6 538.1,691.3 548.1,675.6 558.1,690.3 568.1,681.9 578.1,677.3 588.1,679.1 598.1,674.3 608.1,660.3 618.1,646.5 628.1,634.1 638.1,631.0 648.1,646.5 658.1,667.7 668.1,656.2 678.1,660.8 688.1,660.5 698.1,665.6 708.1,662.3 718.1,668.4 729.1,672.3 739.1,662.1 749.1,652.1 759.1,660.8 769.1,654.4 779.1,653.7 789.1,635.1 799.1,628.5 809.1,628.7 819.1,632.8 829.1,618.5 839.1,619.8 849.1,624.1 859.1,617.5 869.1,636.3 879.1,650.6 889.1,666.6 899.1,661.0 909.1,670.2 919.1,671.5 929.1,672.8 939.1,659.3 949.1,676.1 959.1,681.2 969.1,688.5 979.1,695.9 990.1,676.8 1000.1,676.3 1010.1,688.3 1020.1,672.5 1030.1,676.6 1040.1,678.4 1050.1,698.2 1060.1,700.3 1070.1,687.0 1080.1,672.0 1090.1,672.3 1100.1,668.7 1110.1,654.7 1120.1,645.8 1130.1,635.3 1140.1,646.0 1150.1,644.5 1160.1,649.6 1170.1,643.2 1180.1,645.8 1190.1,644.3 1200.1,648.9 1210.1,634.3 1220.1,634.8 1230.1,634.8 1241.1,625.6 1251.1,647.8 1261.1,645.8 1271.1,663.5 1281.1,679.3 1291.1,651.7 1301.1,659.1 1311.1,657.3 1321.1,659.9 1331.1,658.1" fill="none" stroke="#2041a8" stroke-width="1.1" stroke-linejoin="round"/>
<rect x="1462" y="55" width="97" height="29" fill="#fff"/>
<text y="23" font-size="18" font-weight="700" fill="#000"><tspan x="8.0" textLength="23.0" lengthAdjust="spacingAndGlyphs">US</tspan><tspan font-size="1"> </tspan><tspan x="37.0" textLength="69.4" lengthAdjust="spacingAndGlyphs">DOLLAR</tspan><tspan font-size="1"> </tspan><tspan x="111.8" textLength="54.9" lengthAdjust="spacingAndGlyphs">INDEX</tspan><tspan font-size="1"> </tspan><tspan x="171.8" textLength="51.2" lengthAdjust="spacingAndGlyphs">DAILY</tspan><tspan font-size="1"> </tspan><tspan x="228.1" textLength="59.9" lengthAdjust="spacingAndGlyphs">CHART</tspan></text>
<text x="1471.8" y="23" font-size="18.5" fill="#131722" textLength="35.2" lengthAdjust="spacingAndGlyphs">USD</text>
<text x="1454" y="43" font-size="11.5" fill="#15963a" stroke="#15963a" stroke-width="0.3" text-anchor="end">78.60%(110.252)</text>
<text x="654.2" y="381.4" font-size="14.3" font-weight="700" fill="#14147c" stroke="#14147c" stroke-width="0.25" textLength="84.6" lengthAdjust="spacingAndGlyphs">50-DAY EMA</text>
<clipPath id="c110"><rect x="1463" y="40" width="97" height="15"/></clipPath>
<text x="1475.6" y="65.5" font-size="19" fill="#131722" textLength="69.6" lengthAdjust="spacingAndGlyphs" clip-path="url(#c110)">110.000</text>
<text x="1475.6" y="77.2" font-size="19" fill="#131722" textLength="69.6" lengthAdjust="spacingAndGlyphs">109.748</text>
<text x="1475.6" y="143.9" font-size="19" fill="#131722" textLength="69.6" lengthAdjust="spacingAndGlyphs">108.000</text>
<text x="1475.6" y="222.4" font-size="19" fill="#131722" textLength="69.6" lengthAdjust="spacingAndGlyphs">106.000</text>
<text x="1475.6" y="300.9" font-size="19" fill="#131722" textLength="69.6" lengthAdjust="spacingAndGlyphs">104.000</text>
<text x="1475.6" y="379.4" font-size="19" fill="#131722" textLength="69.6" lengthAdjust="spacingAndGlyphs">102.000</text>
<text x="1475.6" y="457.9" font-size="19" fill="#131722" textLength="69.6" lengthAdjust="spacingAndGlyphs">100.000</text>
<text x="1475.6" y="536.4" font-size="19" fill="#131722" textLength="59.4" lengthAdjust="spacingAndGlyphs">98.000</text>
<text x="1474.2" y="625.9" font-size="19" fill="#131722" textLength="50.4" lengthAdjust="spacingAndGlyphs">75.00</text>
<text x="1474.2" y="686.9" font-size="19" fill="#131722" textLength="50.4" lengthAdjust="spacingAndGlyphs">50.00</text>
<text x="18.3" y="618.7" font-size="12" fill="#434651" textLength="140" lengthAdjust="spacingAndGlyphs">RSI (14, close, SMA, 14, 2)</text>
<text x="166.4" y="618.7" font-size="12" fill="#2041a8" textLength="29" lengthAdjust="spacingAndGlyphs">59.10</text>
<text x="203" y="618.9" font-size="10.5" fill="#434651">∅</text>
<text x="217.6" y="618.9" font-size="10.5" fill="#434651">∅</text>
<text x="99.7" y="763.7" font-size="18" fill="#131722" stroke="#131722" stroke-width="0.55" textLength="32.9" lengthAdjust="spacingAndGlyphs">Apr</text>
<text x="308.7" y="763.7" font-size="18" fill="#131722" stroke="#131722" stroke-width="0.55" textLength="36.6" lengthAdjust="spacingAndGlyphs">May</text>
<text x="531.0" y="763.7" font-size="18" fill="#131722" stroke="#131722" stroke-width="0.55" textLength="33.6" lengthAdjust="spacingAndGlyphs">Jun</text>
<text x="753.9" y="763.7" font-size="18" fill="#131722" stroke="#131722" stroke-width="0.55" textLength="29.1" lengthAdjust="spacingAndGlyphs">Jul</text>
<text x="962.4" y="763.7" font-size="18" fill="#131722" stroke="#131722" stroke-width="0.55" textLength="35.2" lengthAdjust="spacingAndGlyphs">Aug</text>
<text x="1193.8" y="763.7" font-size="18" fill="#131722" stroke="#131722" stroke-width="0.55" textLength="33.3" lengthAdjust="spacingAndGlyphs">Sep</text>
<text x="1415.4" y="763.7" font-size="18" fill="#131722" stroke="#131722" stroke-width="0.55" textLength="32.2" lengthAdjust="spacingAndGlyphs">Oct</text>
<g id="logo"><text transform="translate(1210.75,584) scale(1.0462,1)" x="0" y="0" font-size="43.5" font-weight="700" fill="#05394f" stroke="#05394f" stroke-width="3.2" stroke-linejoin="miter">F</text><text transform="translate(1242.30,585) scale(1.0500,1.065)" x="0" y="0" font-size="43.5" font-weight="700" fill="#0cb257" stroke="#0cb257" stroke-width="3.2" stroke-linejoin="miter">O</text><text transform="translate(1284.81,584) scale(0.9906,1)" x="0" y="0" font-size="43.5" font-weight="700" fill="#05394f" stroke="#05394f" stroke-width="3.2" stroke-linejoin="miter">R</text><text transform="translate(1320.40,584) scale(0.9964,1)" x="0" y="0" font-size="43.5" font-weight="700" fill="#05394f" stroke="#05394f" stroke-width="3.2" stroke-linejoin="miter">E</text><text transform="translate(1353.56,584) scale(1.0788,1)" x="0" y="0" font-size="43.5" font-weight="700" fill="#05394f" stroke="#05394f" stroke-width="3.2" stroke-linejoin="miter">X</text><text transform="translate(1389.28,576.00) scale(1.0217,0.8875)" x="0" y="0" font-size="26" font-weight="700" fill="#05394f" stroke="#05394f" stroke-width="1.2">.com</text><ellipse cx="1260.1" cy="568.9" rx="7.7" ry="13.1" fill="#fff"/><path d="M1261.2 564.7H1282.7L1281.8 567.7H1261.2Z M1261.2 570.8H1281.9L1281 573.8H1261.2Z" fill="#0cb257"/></g>
</svg>
</body></html>
